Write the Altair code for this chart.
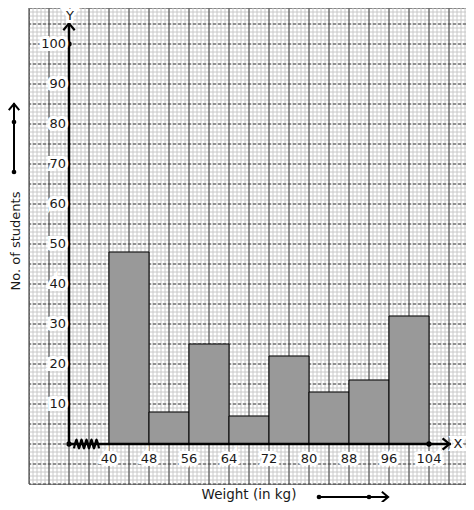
import altair as alt
import pandas as pd
import numpy as np

# ---- data ----
bin_start = [40, 48, 56, 64, 72, 80, 88, 96]
bin_end = [48, 56, 64, 72, 80, 88, 96, 104]
students = [48, 8, 25, 7, 22, 13, 16, 32]
x_ticks = [40, 48, 56, 64, 72, 80, 88, 96, 104]
y_ticks = [10, 20, 30, 40, 50, 60, 70, 80, 90, 100]

FONT = "DejaVu Sans"
xs = alt.Scale(domain=[24, 111.4], nice=False, zero=False)
ys = alt.Scale(domain=[-10, 109], nice=False, zero=False)


def X(f):
    return alt.X(f, scale=xs, axis=None)


def Y(f):
    return alt.Y(f, scale=ys, axis=None)


one = pd.DataFrame({"a": [0]})

# ---- graph paper ----
minor_v = alt.Chart(pd.DataFrame({"x": np.arange(24, 111.5, 0.8)})).mark_rule(
    color="#c8c8c8", strokeWidth=1).encode(x=X("x:Q"))
minor_h = alt.Chart(pd.DataFrame({"y": np.arange(-10, 110, 1)})).mark_rule(
    color="#c8c8c8", strokeWidth=1).encode(y=Y("y:Q"))
major_v = alt.Chart(pd.DataFrame({"x": np.arange(24, 112, 4)})).mark_rule(
    color="#444444", strokeWidth=1).encode(x=X("x:Q"))
major_h = alt.Chart(pd.DataFrame({"y": np.arange(-10, 110, 5)})).mark_rule(
    color="#444444", strokeWidth=1, strokeDash=[3, 2]).encode(y=Y("y:Q"))

# ---- histogram bars ----
bars_df = pd.DataFrame({"start": bin_start, "end": bin_end, "count": students,
                        "base": [0] * len(students)})
bars = alt.Chart(bars_df).mark_rect(fill="#999999", stroke="black", strokeWidth=1).encode(
    x=X("start:Q"), x2="end:Q", y=Y("count:Q"), y2="base:Q")

# ---- axes lines ----
y_axis = alt.Chart(pd.DataFrame({"x": [32], "y1": [0], "y2": [105.3]})).mark_rule(
    color="black", strokeWidth=2.5).encode(x=X("x:Q"), y=Y("y1:Q"), y2="y2:Q")
x_axis = alt.Chart(pd.DataFrame({"x1": [32], "x2": [108.4], "y": [0]})).mark_rule(
    color="black", strokeWidth=2.5).encode(x=X("x1:Q"), x2="x2:Q", y=Y("y:Q"))

zz_x = np.arange(33.0, 38.4, 0.5)
zz = pd.DataFrame({"x": zz_x, "y": [1.1 if i % 2 else -1.1 for i in range(len(zz_x))],
                   "o": range(len(zz_x))})
zigzag = alt.Chart(zz).mark_line(color="black", strokeWidth=2.2, interpolate="cardinal").encode(
    x=X("x:Q"), y=Y("y:Q"), order="o:Q")

up_chev = "M-1,0.6L0,-0.6L1,0.6"
right_chev = "M-0.6,-1L0.6,0L-0.6,1"

y_chev = alt.Chart(pd.DataFrame({"x": [32], "y": [104.3]})).mark_point(
    shape=up_chev, filled=False, color="black", strokeWidth=2.2, size=130, opacity=1).encode(
    x=X("x:Q"), y=Y("y:Q"))
x_chev = alt.Chart(pd.DataFrame({"x": [107.4], "y": [0]})).mark_point(
    shape=right_chev, filled=False, color="black", strokeWidth=2.2, size=130, opacity=1).encode(
    x=X("x:Q"), y=Y("y:Q"))

dots = alt.Chart(pd.DataFrame({"x": [32, 104, 32], "y": [0, 0, 100]})).mark_circle(
    color="black", size=28, opacity=1).encode(x=X("x:Q"), y=Y("y:Q"))


def halo_text(data, enc, **kw):
    base = alt.Chart(data)
    h = base.mark_text(font=FONT, fill="white", stroke="white", strokeWidth=6, **kw).encode(**enc)
    t = base.mark_text(font=FONT, color="#1a1a1a", **kw).encode(**enc)
    return h + t


xlab = halo_text(pd.DataFrame({"v": x_ticks}),
                 dict(x=X("v:Q"), y=alt.value(451), text="v:Q"),
                 fontSize=13, align="center", baseline="middle")
ylab = halo_text(pd.DataFrame({"v": y_ticks}),
                 dict(y=Y("v:Q"), x=alt.value(37), text="v:Q"),
                 fontSize=13, align="right", baseline="middle")
ytag = halo_text(pd.DataFrame({"t": ["Y"], "x": [32.2], "y": [107.1]}),
                 dict(x=X("x:Q"), y=Y("y:Q"), text="t:N"),
                 fontSize=13, align="center", baseline="middle")
xtag = halo_text(pd.DataFrame({"t": ["X"], "x": [109.8], "y": [0]}),
                 dict(x=X("x:Q"), y=Y("y:Q"), text="t:N"),
                 fontSize=13, align="center", baseline="middle")

# ---- titles with decorative arrows ----
x_title = alt.Chart(pd.DataFrame({"t": ["Weight (in kg)"]})).mark_text(
    font=FONT, fontSize=13.5, color="#1a1a1a", align="center", baseline="middle").encode(
    x=alt.value(220), y=alt.value(487), text="t:N")
y_title = alt.Chart(pd.DataFrame({"t": ["No. of students"]})).mark_text(
    font=FONT, fontSize=13, color="#1a1a1a", align="center", baseline="middle", angle=270).encode(
    x=alt.value(-13), y=alt.value(233), text="t:N")


def pix_dot(px, py, size=22):
    return alt.Chart(one).mark_circle(color="black", size=size, opacity=1).encode(
        x=alt.value(px), y=alt.value(py))


b_line = alt.Chart(one).mark_rule(color="black", strokeWidth=2).encode(
    x=alt.value(290), x2=alt.value(359), y=alt.value(489))
b_chev = alt.Chart(one).mark_point(shape=right_chev, filled=False, color="black", strokeWidth=2,
                                   size=110, opacity=1).encode(x=alt.value(356), y=alt.value(489))

LX = -15
l_line = alt.Chart(one).mark_rule(color="black", strokeWidth=2).encode(
    x=alt.value(LX), y=alt.value(95), y2=alt.value(164))
l_chev = alt.Chart(one).mark_point(shape=up_chev, filled=False, color="black", strokeWidth=2,
                                   size=110, opacity=1).encode(x=alt.value(LX), y=alt.value(99))

chart = alt.layer(
    minor_v, minor_h, major_v, major_h, bars, x_axis, y_axis, zigzag, y_chev, x_chev, dots,
    xlab, ylab, ytag, xtag, x_title, y_title,
    b_line, b_chev, pix_dot(290, 489), pix_dot(340, 489),
    l_line, l_chev, pix_dot(LX, 114), pix_dot(LX, 164),
).properties(
    width=437, height=476,
    autosize=alt.AutoSizeParams(type="none"),
    padding={"left": 21, "top": 0, "right": 0, "bottom": 18},
    background="white",
).configure_view(stroke="#444444", strokeWidth=1)

chart.save("out.html", embed_options={"renderer": "svg", "actions": False})
